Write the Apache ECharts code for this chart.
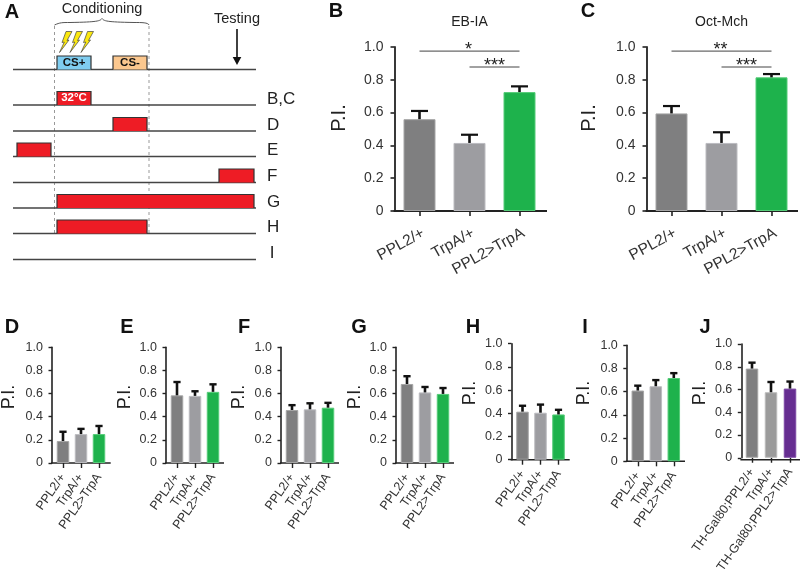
<!DOCTYPE html>
<html><head><meta charset="utf-8">
<style>html,body{margin:0;padding:0;background:#fff}#c{width:800px;height:576px}</style>
<script src="https://cdn.jsdelivr.net/npm/echarts@6/dist/echarts.min.js"></script>
</head><body><div id="c"></div>
<script>
const FONT='Liberation Sans';
const labels=['PPL2/+','TrpA/+','PPL2>TrpA'];
const labelsJ=['TH-Gal80;PPL2/+','TrpA/+','TH-Gal80;PPL2>TrpA'];
const GREY1='#7f7f80',GREY2='#9d9da1',GREEN='#1eb24c',PURPLE='#662d91';
const colors=[GREY1,GREY2,GREEN];
const colorsJ=[GREY1,'#9b9b9b',PURPLE];
const edge={[GREY1]:'#a5a5a5',[GREY2]:'#bcbcc0','#9b9b9b':'#bbbbbb',[GREEN]:'#55cc78',[PURPLE]:'#7d4aa5'};

const meanB=[0.56,0.415,0.725], topB=[0.61,0.465,0.76];
const meanC=[0.595,0.415,0.815], topC=[0.64,0.48,0.835];
const meanD=[0.19,0.25,0.25],   topD=[0.27,0.295,0.32];
const meanE=[0.585,0.58,0.615], topE=[0.70,0.62,0.68];
const meanF=[0.458,0.464,0.478],topF=[0.50,0.516,0.52];
const meanG=[0.683,0.61,0.597], topG=[0.75,0.657,0.648];
const meanH=[0.414,0.405,0.39], topH=[0.465,0.475,0.43];
const meanI=[0.61,0.647,0.718], topI=[0.652,0.70,0.76];
const meanJ=[0.784,0.576,0.608],topJ=[0.836,0.666,0.67];

const sigB=[[0,2,0.975,'*'],[1,2,0.878,'***']];
const sigC=[[0,2,0.975,'**'],[1,2,0.878,'***']];

// schematic timeline: row baselines and pulses (in schematic units)
const rowY=[69.5,105,131,156.5,182.5,208,233.5,259.5];
const rowNames=['','B,C','D','E','F','G','H','I'];
const pulses=[
 [0,57,91,'#7fcdf0','CS+','#111'],
 [0,113,147,'#fbc78e','CS-','#111'],
 [1,57,91,'#ee1c25','32°C','#fff'],
 [2,113,147,'#ee1c25','',''],
 [3,17,51,'#ee1c25','',''],
 [4,219,254,'#ee1c25','',''],
 [5,57,254,'#ee1c25','',''],
 [6,57,147,'#ee1c25','','']
];

const panels=[
 {k:'B',m:meanB,t:topB,left:394.5,top:47,w:150,h:164,end:547,off:0,big:1,nameX:339,nameY:118,lx:336,ly:11,title:'EB-IA',sig:sigB},
 {k:'C',m:meanC,t:topC,left:646.5,top:47,w:150,h:164,end:798,off:0,big:1,nameX:589,nameY:118,lx:588,ly:11,title:'Oct-Mch',sig:sigC},
 {k:'D',m:meanD,t:topD,left:54,top:347.3,w:54,h:115.7,end:110.7,off:2,nameX:9,nameY:397,lx:12,ly:327},
 {k:'E',m:meanE,t:topE,left:168,top:347.3,w:54,h:115.7,end:224,off:2,nameX:125,nameY:397,lx:127,ly:327},
 {k:'F',m:meanF,t:topF,left:283,top:347.3,w:54,h:115.7,end:339,off:2,nameX:239,nameY:397,lx:244,ly:327},
 {k:'G',m:meanG,t:topG,left:398,top:347.3,w:54,h:115.7,end:454,off:2,nameX:355,nameY:397,lx:359,ly:327},
 {k:'H',m:meanH,t:topH,left:513.5,top:343.7,w:54,h:116,end:569.7,off:2,nameX:470,nameY:393,lx:473,ly:327},
 {k:'I',m:meanI,t:topI,left:628.8,top:345.3,w:54,h:116,end:685,off:2,nameX:584,nameY:393,lx:585,ly:327},
 {k:'J',m:meanJ,t:topJ,left:742.5,top:344,w:57,h:115.7,end:800,off:1.2,nameX:700,nameY:393,lx:705,ly:327,cats:labelsJ,cols:colorsJ}
];

const grid=[],xAxis=[],yAxis=[],series=[],graphic=[];
function txt(x,y,s,size,o){graphic.push({type:'text',x,y,silent:true,style:Object.assign({text:s,font:(o&&o.weight||'normal')+' '+size+'px "'+FONT+'"',fill:(o&&o.fill)||'#222',textAlign:'center',textVerticalAlign:'middle'},{}),rotation:(o&&o.rot)||0});}
function ln(x1,y1,x2,y2,w,c,dash){graphic.push({type:'line',silent:true,shape:{x1,y1,x2,y2},style:{stroke:c,lineWidth:w,lineDash:dash||null}});}

panels.forEach((p,i)=>{
 const big=!!p.big;
 grid.push({left:p.left,top:p.top,width:p.w,height:p.h});
 xAxis.push({type:'category',gridIndex:i,data:p.cats||labels,
   axisLine:{show:false},
   axisTick:{show:true,alignWithLabel:true,length:5,lineStyle:{color:'#222',width:big?1.6:1.4}},
   axisLabel:{interval:0,rotate:big?29:55,verticalAlign:big?'top':'middle',margin:big?14:12,color:'#333',fontFamily:FONT,fontSize:big?15.5:12.5}});
 yAxis.push({type:'value',gridIndex:i,min:0,max:1,interval:0.2,offset:p.off,
   splitLine:{show:false},
   axisLine:{show:true,lineStyle:{color:'#222',width:big?1.8:1.6}},
   axisTick:{show:true,length:big?4:3.5,lineStyle:{color:'#222',width:big?1.6:1.4}},
   axisLabel:{margin:big?11:9,color:'#333',fontFamily:FONT,fontSize:big?14:12.5,
     formatter:v=>v===0?'0':v.toFixed(1)}});
 const cols=p.cols||colors;
 series.push({type:'bar',xAxisIndex:i,yAxisIndex:i,barWidth:big?32:12.5,silent:true,
   data:p.m.map((v,j)=>({value:v,itemStyle:{color:cols[j],borderColor:edge[cols[j]],borderWidth:1}}))});
 series.push({type:'custom',xAxisIndex:i,yAxisIndex:i,silent:true,z:3,
   data:p.t.map((v,j)=>[j,p.m[j],v]),
   renderItem:(params,api)=>{
     const a=api.coord([api.value(0),api.value(1)]),b=api.coord([api.value(0),api.value(2)]);
     const cap=big?8.5:3.6,w=2.6;
     return {type:'group',children:[
       {type:'line',shape:{x1:a[0],y1:a[1],x2:b[0],y2:b[1]},style:{stroke:'#111',lineWidth:w}},
       {type:'line',shape:{x1:a[0]-cap,y1:b[1],x2:a[0]+cap,y2:b[1]},style:{stroke:'#111',lineWidth:big?2.2:2.4}}
     ]};
   }});
 if(p.sig){
   series.push({type:'custom',xAxisIndex:i,yAxisIndex:i,silent:true,z:3,
     data:p.sig,
     renderItem:(params,api)=>{
       const a=api.coord([api.value(0),api.value(2)]),b=api.coord([api.value(1),api.value(2)]);
       return {type:'group',children:[
         {type:'line',shape:{x1:a[0],y1:a[1],x2:b[0],y2:b[1]},style:{stroke:'#444',lineWidth:1}},
         {type:'text',style:{text:p.sig[params.dataIndex][3],x:(a[0]+b[0])/2-(params.dataIndex?0:1),y:a[1]-1,textAlign:'center',textVerticalAlign:'middle',font:'18px "'+FONT+'"',fill:'#222'}}
       ]};
     }});
   txt(p.left+75,22,p.title,14,{fill:'#222'});
 }
 ln(p.left-p.off-0.9,p.top+p.h,p.end,p.top+p.h,big?1.8:1.6,'#222');
 txt(p.nameX,p.nameY,'P.I.',big?20:18,{rot:Math.PI/2,fill:'#222'});
 txt(p.lx,p.ly,p.k,20,{weight:'bold',fill:'#111'});
});

// Panel A
const ai=panels.length;
grid.push({left:0,top:0,width:290,height:270});
xAxis.push({type:'value',gridIndex:ai,min:0,max:290,show:false});
yAxis.push({type:'value',gridIndex:ai,min:0,max:270,inverse:true,show:false});
series.push({type:'custom',xAxisIndex:ai,yAxisIndex:ai,silent:true,clip:false,z:1,
  data:rowY.map(y=>[13,256,y]),
  renderItem:(params,api)=>{
    const a=api.coord([api.value(0),api.value(2)]),b=api.coord([api.value(1),api.value(2)]);
    return {type:'line',shape:{x1:a[0],y1:a[1],x2:b[0],y2:b[1]},style:{stroke:'#444',lineWidth:1.3}};
  }});
const PULSE_H=13.5;
series.push({type:'custom',xAxisIndex:ai,yAxisIndex:ai,silent:true,clip:false,z:2,
  data:pulses.map(p=>[p[1],p[2],rowY[p[0]]]),
  renderItem:(params,api)=>{
    const p=pulses[params.dataIndex];
    const a=api.coord([api.value(0),api.value(2)]),b=api.coord([api.value(1),api.value(2)-PULSE_H]);
    const kids=[
      {type:'rect',shape:{x:a[0],y:b[1],width:b[0]-a[0],height:a[1]-b[1]},style:{fill:p[3]}},
      {type:'polyline',shape:{points:[[a[0],a[1]],[a[0],b[1]],[b[0],b[1]],[b[0],a[1]]]},style:{fill:null,stroke:'#333',lineWidth:1.2}}
    ];
    if(p[4])kids.push({type:'text',style:{text:p[4],x:(a[0]+b[0])/2,y:(a[1]+b[1])/2,textAlign:'center',textVerticalAlign:'middle',font:'bold 11.5px "'+FONT+'"',fill:p[5]}});
    return {type:'group',children:kids};
  }});
rowNames.forEach((n,i)=>{ if(n) graphic.push({type:'text',x:n==='I'?272:267,y:rowY[i]-6,silent:true,style:{text:n,font:'17px "'+FONT+'"',fill:'#222',textAlign:n==='I'?'center':'left',textVerticalAlign:'middle'}}); });
txt(102,9,'Conditioning',14.5,{fill:'#222'});
txt(237,19,'Testing',14.5,{fill:'#222'});
txt(12,12,'A',20,{weight:'bold',fill:'#111'});
ln(54.5,26,54.5,234,1,'#999',[3,3]);
ln(149,26,149,234,1,'#999',[3,3]);
[[54.5,25,60,22.5,62,22.5,70,22.5],[70,22.5,98,22,100,21,102,18.5],[102,18.5,104,21,106,22,134,22.5],[134,22.5,142,22.5,148,22.5,149,25]].forEach(b=>
  graphic.push({type:'bezierCurve',silent:true,shape:{x1:b[0],y1:b[1],cpx1:b[2],cpy1:b[3],cpx2:b[4],cpy2:b[5],x2:b[6],y2:b[7]},style:{fill:null,stroke:'#555',lineWidth:1}}));
ln(237,29,237,59,1.6,'#111');
graphic.push({type:'polygon',silent:true,shape:{points:[[232.7,57],[241.3,57],[237,65]]},style:{fill:'#111'}});
[59.5,70,81].forEach(x=>graphic.push({type:'polygon',silent:true,x,y:52.5,shape:{points:[[0,0],[9.5,-12.5],[7.5,-12],[12.5,-21],[6.5,-21],[2.5,-10],[4.8,-10.5]]},style:{fill:'#fbe80f',stroke:'#444',lineWidth:0.7}}));

const chart=echarts.init(document.getElementById('c'),null,{renderer:'canvas'});
chart.setOption({animation:false,backgroundColor:'#fff',grid,xAxis,yAxis,series,graphic});
</script></body></html>
